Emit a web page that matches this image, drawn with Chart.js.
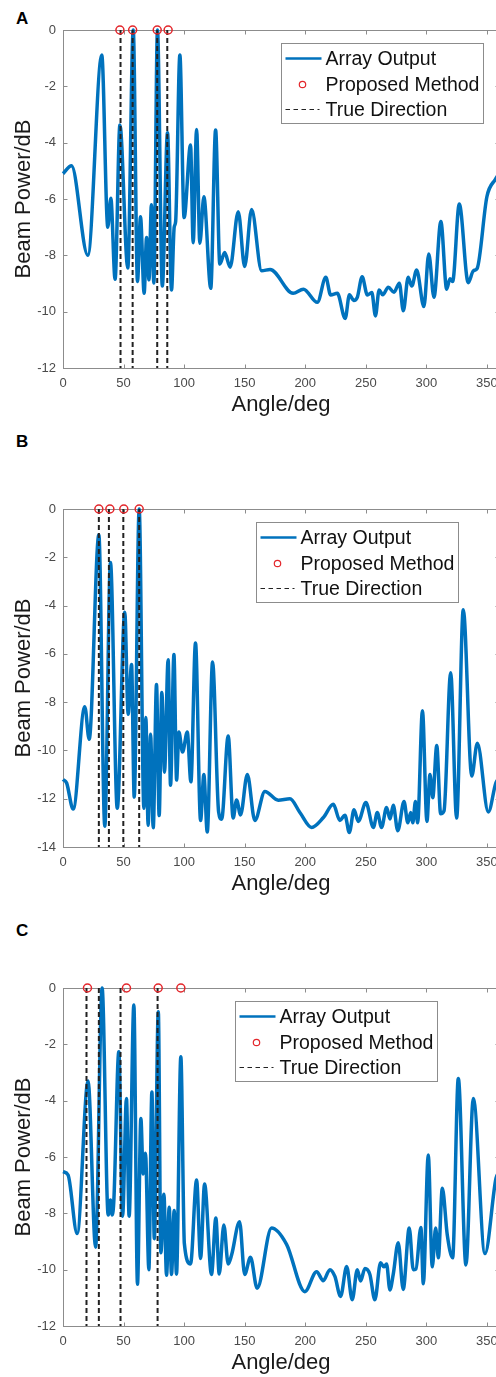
<!DOCTYPE html>
<html>
<head>
<meta charset="utf-8">
<script src="https://cdn.jsdelivr.net/npm/chart.js@4.4.1/dist/chart.umd.min.js"></script>
<style>
  html, body { margin: 0; padding: 0; background: #fff; overflow: hidden; width: 496px; height: 1377px; }
  .panel { position: absolute; left: 0; }
  .tag { position: absolute; left: 16px; font: bold 17px "Liberation Sans", Arial, sans-serif; color: #000; }
</style>
</head>
<body>
<div class="tag" style="top:9px">A</div>
<div class="panel" style="top:0px"><canvas id="chartA" width="540" height="418"></canvas></div>
<div class="tag" style="top:432px">B</div>
<div class="panel" style="top:479px"><canvas id="chartB" width="540" height="418"></canvas></div>
<div class="tag" style="top:921px">C</div>
<div class="panel" style="top:958px"><canvas id="chartC" width="540" height="418"></canvas></div>
<script>
// beam pattern, panel A
var anglesA = [0,7,20.5,32,37,39.5,43,47,53.5,58,61.5,64,67,69,71,73,75,78,82,86.3,89.6,91.8,93,96.5,100,105.3,107.5,110.3,113,116.3,122,126,129.5,133.5,138,144.7,150,155.7,164,171,190,198.5,210,217,221,226.5,233,236.5,240,243,247,251.3,255,258,261,264,268.6,273.3,277.7,281,285,288,292,298,302,306.3,312,316.8,319.5,321.7,327.2,334.6,338.8,342,350,357,360];
var powerA = [-5.1,-4.82,-8.0,-0.89,-7.0,-5.97,-8.85,-3.37,-8.45,0,-8.93,-6.63,-9.35,-7.37,-8.87,-6.2,-8.98,0,-9.09,-3.65,-9.23,-7.0,-6.8,-0.89,-6.66,-4.08,-7.55,-3.53,-7.57,-5.92,-9.17,-3.55,-8.31,-7.9,-8.42,-6.45,-8.4,-6.37,-8.55,-8.5,-9.35,-9.2,-9.67,-8.78,-9.41,-9.35,-10.24,-9.4,-9.6,-9.49,-8.76,-9.41,-9.32,-10.15,-9.23,-9.4,-9.13,-9.31,-8.99,-9.97,-8.78,-9.09,-8.52,-9.82,-7.95,-9.49,-6.8,-9.2,-8.83,-8.93,-6.18,-8.97,-8.55,-8.46,-5.92,-5.3,-5.1];
var trueDirA = [47.5, 57.5, 77.8, 86.1];
var proposedA = [47, 57.5, 77.8, 86.8];

// panel B
var anglesB = [0,3,8.4,18,21.6,29.6,34.5,39.2,44.8,51,53.8,56.6,58.8,62.9,66.8,68.4,70.3,72.3,74.5,77.2,79.4,81.6,83.8,86.8,88.8,91.6,93.8,95.7,98.7,102.6,105.6,109.4,113.6,116.3,119.1,123.5,128.5,131,136.4,140.5,143.3,146.6,152.2,158.4,166.7,177.7,187.4,195.6,205.3,215,223.2,228.6,232.8,236.4,240.3,243.8,250.1,256.3,259.5,263,267.2,270,272.7,276.4,281.6,284.7,287.1,288.8,291,292.8,296.8,300.5,303,305.3,308.6,311.8,314.6,320.1,325,330.5,337.5,342.1,351.2,357.5,360];
var powerB = [-11.2,-11.35,-12.43,-8.19,-9.54,-1.07,-13.14,-2.22,-12.4,-4.28,-8.5,-6.44,-11.93,0,-12.4,-8.64,-13.1,-9.33,-13.2,-7.27,-12.7,-7.6,-10.9,-6.24,-11.44,-6.03,-11.23,-9.24,-10.07,-9.24,-11.3,-5.55,-12.9,-11.0,-13.38,-6.34,-12.55,-12.85,-9.4,-12.8,-12.05,-12.67,-11.0,-12.9,-11.7,-12.06,-12.0,-12.57,-13.19,-12.78,-12.23,-12.9,-12.68,-13.4,-12.46,-12.94,-12.16,-13.19,-12.57,-13.19,-12.36,-12.84,-12.27,-13.33,-12.12,-13.0,-12.57,-13.0,-12.12,-13.0,-8.36,-12.94,-11.0,-11.96,-9.8,-12.62,-12.5,-6.78,-12.8,-4.17,-11.06,-9.7,-12.55,-11.33,-11.2];
var trueDirB = [29.6, 37.9, 49.8, 62.9];
var proposedB = [29.6, 38.7, 50.2, 62.9];

// panel C
var anglesC = [0,4.2,11.7,20.7,26.9,32.3,37.3,39.2,40.6,42,46.1,49.2,52.4,54.6,58.5,61.5,64.3,66.2,68.1,70.9,73.4,75.4,78.7,80.8,83.3,85.5,87.7,89.6,91.8,93.7,97.3,100.2,105.3,110.3,113.6,116.9,122.6,126.2,129,132.8,136.4,139.2,145.8,150,154.8,160.3,172.2,184.6,199.7,209.4,214.9,220.4,224.5,229.2,234.2,238.8,243,245.7,249.3,253.4,257.5,262.2,264.9,267.2,269.9,272.7,276.8,280.9,285.9,289.2,291.4,295.5,297.5,301.6,304.9,307.7,309.9,313.2,317.3,321.7,326.4,332.7,338.8,348.4,357.5,360];
var powerC = [-6.52,-6.64,-8.72,-3.30,-9.2,0,-8.06,-7.53,-8.06,-7.53,-2.26,-8.1,-3.92,-8.1,-0.6,-10.52,-4.63,-6.6,-5.87,-10.0,-3.69,-8.9,-0.84,-9.4,-7.32,-10.2,-7.78,-10.17,-7.9,-10.16,-2.44,-9.07,-9.8,-6.82,-9.6,-6.96,-10.17,-8.17,-10.15,-8.41,-9.8,-9.48,-8.3,-10.17,-9.56,-10.66,-8.52,-9.1,-10.78,-10.07,-10.39,-10.0,-10.24,-10.95,-9.89,-11.07,-10.0,-10.4,-9.96,-10.17,-11.07,-9.75,-9.9,-9.8,-10.72,-10.16,-9.04,-10.7,-8.52,-10.0,-9.98,-8.5,-10.5,-5.93,-9.9,-8.52,-9.58,-7.11,-8.77,-9.58,-3.21,-9.83,-3.92,-9.43,-6.76,-6.52];
var trueDirC = [19.4, 29.6, 47.5, 78.1];
var proposedC = [20.2, 52.4, 78.6, 97.3];

var seriesNames = ['Array Output', 'Proposed Method', 'True Direction'];

Chart.defaults.font.family = '"Liberation Sans", Arial, Helvetica, sans-serif';
Chart.defaults.color = '#4a4a4a';

var BLUE = '#0072BD', RED = '#e3262b', DASH = '#222';

// matlab style box with inward ticks on all four sides
var axesBox = {
  id: 'axesBox',
  beforeDatasetsDraw: function(chart) {
    var ctx = chart.ctx, a = chart.chartArea, xs = chart.scales.x, ys = chart.scales.y;
    var l = Math.round(a.left) + 0.5, r = Math.round(a.right) + 0.5;
    var t = Math.round(a.top) + 0.5, b = Math.round(a.bottom) + 0.5;
    ctx.save();
    ctx.strokeStyle = '#8c8c8c';
    ctx.lineWidth = 1;
    ctx.strokeRect(l, t, r - l, b - t);
    ctx.beginPath();
    xs.ticks.forEach(function(tk) {
      var px = Math.round(xs.getPixelForValue(tk.value)) + 0.5;
      ctx.moveTo(px, b); ctx.lineTo(px, b - 4);
      ctx.moveTo(px, t); ctx.lineTo(px, t + 4);
    });
    ys.ticks.forEach(function(tk) {
      var py = Math.round(ys.getPixelForValue(tk.value)) + 0.5;
      ctx.moveTo(l, py); ctx.lineTo(l + 4, py);
      ctx.moveTo(r, py); ctx.lineTo(r - 4, py);
    });
    ctx.stroke();
    ctx.restore();
  }
};

// boxed legend inside the plot area
var legendBox = {
  id: 'legendBox',
  afterDatasetsDraw: function(chart, args, opts) {
    var ctx = chart.ctx, a = chart.chartArea;
    var x = Math.round(a.left + opts.left) + 0.5, y = Math.round(a.top + 13) + 0.5;
    var w = 202, h = 80;
    ctx.save();
    ctx.fillStyle = '#fff';
    ctx.fillRect(x, y, w, h);
    ctx.strokeStyle = '#8c8c8c';
    ctx.lineWidth = 1;
    ctx.strokeRect(x, y, w, h);

    var rows = [y + 15, y + 41, y + 66];
    // line sample
    ctx.strokeStyle = BLUE; ctx.lineWidth = 2.5;
    ctx.beginPath(); ctx.moveTo(x + 4, rows[0]); ctx.lineTo(x + 40, rows[0]); ctx.stroke();
    // marker sample
    ctx.strokeStyle = RED; ctx.lineWidth = 1.2;
    ctx.beginPath(); ctx.arc(x + 21, rows[1], 3.2, 0, Math.PI * 2); ctx.stroke();
    // dashed sample
    ctx.strokeStyle = DASH; ctx.lineWidth = 1.2; ctx.setLineDash([4.5, 3.5]);
    ctx.beginPath(); ctx.moveTo(x + 4, rows[2]); ctx.lineTo(x + 38, rows[2]); ctx.stroke();
    ctx.setLineDash([]);

    ctx.fillStyle = '#111';
    ctx.font = '19.5px "Liberation Sans", Arial, sans-serif';
    ctx.textBaseline = 'middle';
    ctx.textAlign = 'left';
    seriesNames.forEach(function(name, i) { ctx.fillText(name, x + 44, rows[i] + 1); });
    ctx.restore();
  }
};

function directionLines(list, yMin) {
  var pts = [];
  list.forEach(function(a) {
    pts.push({x: a, y: 0}, {x: a, y: yMin}, {x: a, y: null});
  });
  return pts;
}

function makePanel(id, angles, power, trueDir, proposed, yMin, legendLeft) {
  var ctx = document.getElementById(id).getContext('2d');
  return new Chart(ctx, {
    type: 'line',
    data: {
      datasets: [{
        label: seriesNames[0],
        data: angles.map(function(a, i) { return {x: a, y: power[i]}; }),
        borderColor: BLUE,
        borderWidth: 3.5,
        pointRadius: 0,
        cubicInterpolationMode: 'monotone',
        clip: 4,
        order: 3
      }, {
        label: seriesNames[1],
        data: proposed.map(function(a) { return {x: a, y: 0}; }),
        showLine: false,
        pointRadius: 4,
        pointBorderWidth: 1.5,
        pointBorderColor: RED,
        pointBackgroundColor: 'rgba(0,0,0,0)',
        clip: false,
        order: 1
      }, {
        label: seriesNames[2],
        data: directionLines(trueDir, yMin),
        borderColor: DASH,
        borderWidth: 2,
        borderDash: [5, 3],
        pointRadius: 0,
        spanGaps: false,
        order: 2
      }]
    },
    options: {
      responsive: false,
      animation: false,
      layout: { padding: { top: 30, right: 41, left: 0, bottom: 0 } },
      plugins: {
        legend: { display: false },
        tooltip: { enabled: false },
        legendBox: { left: legendLeft }
      },
      scales: {
        x: {
          type: 'linear',
          min: 0, max: 360,
          grid: { display: false, drawTicks: false },
          border: { display: false },
          ticks: { stepSize: 50, includeBounds: false, padding: 8, font: { size: 13 }, color: '#4a4a4a', maxRotation: 0 },
          title: { display: true, text: 'Angle/deg', color: '#1a1a1a', font: { size: 22 }, padding: { top: 0, bottom: 0 } },
          afterFit: function(s) { s.height = 50; }
        },
        y: {
          min: yMin, max: 0,
          grid: { display: false, drawTicks: false },
          border: { display: false },
          ticks: { stepSize: 2, padding: 7, font: { size: 13 }, color: '#4a4a4a' },
          title: { display: true, text: 'Beam Power/dB', color: '#1a1a1a', font: { size: 22 }, padding: { top: 11, bottom: 0 } },
          afterFit: function(s) { s.width = 63; }
        }
      }
    },
    plugins: [axesBox, legendBox]
  });
}

makePanel('chartA', anglesA, powerA, trueDirA, proposedA, -12, 218);
makePanel('chartB', anglesB, powerB, trueDirB, proposedB, -14, 193);
makePanel('chartC', anglesC, powerC, trueDirC, proposedC, -12, 172);
</script>
</body>
</html>
